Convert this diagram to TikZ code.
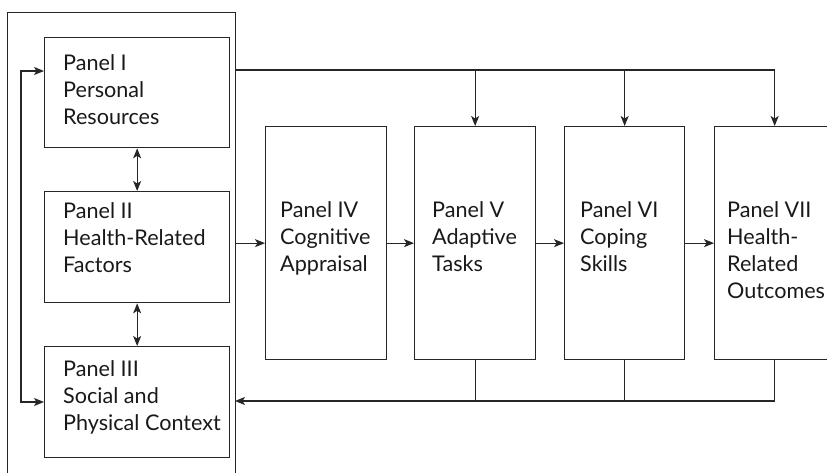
\documentclass[tikz,border=0pt]{standalone}
\usepackage{fontspec}
\setmainfont{Lato}
\usepackage{tikz}
\usetikzlibrary{arrows.meta,calc,positioning}
\tikzset{
  panel/.style={draw=black!85, line width=1.3pt, anchor=north west, inner sep=0pt},
  ptext/.style={anchor=base west, align=left, inner sep=0pt, font=\fontsize{21.6}{27}\selectfont, text=black!90},
  grp/.style={draw=black!85, line width=1.3pt, anchor=north west, inner sep=0pt},
  line/.style={line width=1.3pt, draw=black!85},
  arr/.style={-{Stealth[length=10pt, width=8pt, inset=2.5pt]}, line width=1.3pt, draw=black!85},
  darr/.style={{Stealth[length=10pt, width=8pt, inset=2.5pt]}-{Stealth[length=10pt, width=8pt, inset=2.5pt]}, line width=1.3pt, draw=black!85},
}
\begin{document}
\begin{tikzpicture}[x=1pt, y=-1pt]
\useasboundingbox (0,0) rectangle (827,472);

%% =====================================================================
%% Left group: Panels I--III
%% =====================================================================
\node[grp, minimum width=228pt, minimum height=475pt] (grp) at (7,12) {};

\node[panel, minimum width=185pt, minimum height=110pt] (p1) at (44,37) {};
\node[panel, minimum width=185pt, minimum height=111pt] (p2) at (44,191) {};
\node[panel, minimum width=185pt, minimum height=111pt] (p3) at (44,346) {};

% text nodes sit on the baseline of their last line
\node[ptext] (t1) at (63,124) {Panel I\\Personal\\Resources};
\node[ptext] (t2) at (63,272) {Panel II\\Health-Related\\Factors};
\node[ptext] (t3) at (63,430) {Panel III\\Social and\\Physical Context};

%% =====================================================================
%% Row: Panels IV--VII
%% =====================================================================
\node[panel, minimum width=121pt, minimum height=233pt] (p4) at (265,126) {};
\node[panel, minimum width=121pt, minimum height=233pt] (p5) at (414,126) {};
\node[panel, minimum width=120pt, minimum height=233pt] (p6) at (564,126) {};
\node[panel, minimum width=120pt, minimum height=233pt] (p7) at (714,126) {};

\node[ptext] (t4) at (280,271) {Panel IV\\Cognitive\\Appraisal};
\node[ptext] (t5) at (432,271) {Panel V\\Adaptive\\Tasks};
\node[ptext] (t6) at (580,271) {Panel VI\\Coping\\Skills};
\node[ptext] (t7) at (727,298) {Panel VII\\Health-\\Related\\Outcomes};

%% junctions
\coordinate (top) at (235,70);
\coordinate (fb) at (235,401);
\coordinate (la) at (21,71);
\coordinate (lb) at (21,402);

%% connectors
\draw[darr] (p1.south) -- (p2.north);
\draw[darr] (p2.south) -- (p3.north);
\draw[darr] (p1.west |- la) -- (la) -- (lb) -- (p3.west |- lb);

\draw[arr] (p4.west -| grp.east) -- (p4.west);
\draw[arr] (p4) -- (p5);
\draw[arr] (p5) -- (p6);
\draw[arr] (p6) -- (p7);

\draw[arr] (top) -| (p7.north);
\draw[arr] (p5.north |- top) -- (p5.north);
\draw[arr] (p6.north |- top) -- (p6.north);

\draw[arr] (p7.south) |- (fb);
\draw[line] (p5.south) -- (p5.south |- fb);
\draw[line] (p6.south) -- (p6.south |- fb);

\end{tikzpicture}
\end{document}
